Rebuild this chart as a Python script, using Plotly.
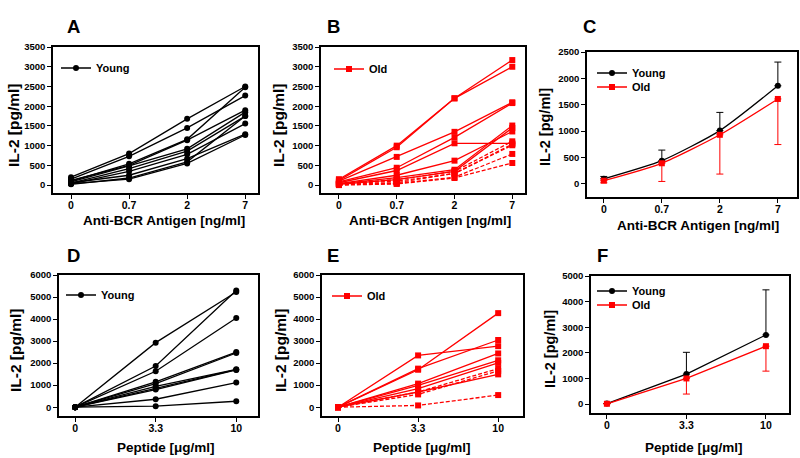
import plotly.graph_objects as go

W, H = 800, 458
FONT = "Liberation Sans"
RED = "#FF0000"
BLACK = "#000000"

# ---- data ----
bcr_doses = ["0", "0.7", "2", "7"]
pep_doses = ["0", "3.3", "10"]

# panel A: young donors, anti-BCR stimulation
young_bcr = [
    [200, 800, 1680, 2500],
    [150, 730, 1450, 2270],
    [100, 540, 1160, 2480],
    [120, 500, 1140, 1900],
    [80, 490, 920, 1850],
    [50, 420, 860, 1750],
    [30, 350, 780, 1560],
    [60, 250, 670, 1290],
    [20, 180, 590, 1750],
    [40, 150, 550, 1270],
]

# panel B: old donors, anti-BCR stimulation
old_bcr_solid = [
    [150, 1000, 2200, 3170],
    [120, 960, 2200, 3000],
    [100, 715, 1350, 2100],
    [80, 440, 1210, 2080],
    [60, 370, 1060, 1060],
    [40, 250, 620, 1360],
    [30, 190, 390, 1510],
    [20, 140, 350, 1450],
]
old_bcr_dashed = [
    [40, 140, 350, 1110],
    [30, 100, 290, 1040],
    [20, 60, 300, 1010],
    [10, 40, 200, 790],
    [0, 30, 180, 560],
]

# panel C: means
young_bcr_mean = [95, 440, 1010, 1860]
young_bcr_err = [45, 200, 345, 450]
old_bcr_mean = [60, 390, 930, 1610]
old_bcr_err = [40, 345, 745, 865]

# panel D: young donors, peptide stimulation
young_pep = [
    [0, 2930, 5230],
    [0, 1870, 5300],
    [0, 1630, 4050],
    [0, 1150, 2500],
    [0, 1075, 2460],
    [0, 950, 1720],
    [0, 850, 1700],
    [0, 800, 1690],
    [0, 360, 1120],
    [0, 45, 270],
]

# panel E: old donors, peptide stimulation
old_pep_solid = [
    [0, 1700, 4270],
    [0, 2350, 2770],
    [0, 1750, 3050],
    [0, 1070, 2440],
    [0, 990, 2130],
    [0, 840, 2010],
    [0, 690, 1490],
]
old_pep_dashed = [
    [0, 690, 1750],
    [0, 580, 1650],
    [0, 80, 550],
]

# panel F: means
young_pep_mean = [20, 1170, 2700]
young_pep_err = [0, 850, 1760]
old_pep_mean = [10, 1000, 2260]
old_pep_err = [0, 610, 975]

# ---- layout of the six panels (pixel boxes) ----
panels = [
    dict(box=(53, 258, 47, 193), xr=(-0.31, 3.22), yr=(-200, 3501), dt=500),
    dict(box=(321, 525, 47, 193), xr=(-0.31, 3.22), yr=(-200, 3501), dt=500),
    dict(box=(587, 797, 52, 197), xr=(-0.29, 3.33), yr=(-250, 2501), dt=500),
    dict(box=(59, 258, 275, 416), xr=(-0.2, 2.27), yr=(-400, 6001), dt=1000),
    dict(box=(322, 523, 275, 416), xr=(-0.2, 2.31), yr=(-400, 6001), dt=1000),
    dict(box=(591, 789, 276, 413), xr=(-0.2, 2.29), yr=(-350, 5001), dt=1000),
]


def px(x):
    return x / W


def py(y):
    return 1 - y / H


def axref(n):
    return ("x" if n == 1 else f"x{n}"), ("y" if n == 1 else f"y{n}")


def leg(n):
    return "legend" if n == 1 else f"legend{n}"


fig = go.Figure()


def add_lines(n, cats, rows, color, symbol, name, dash="solid", first=True):
    xa, ya = axref(n)
    for i, vals in enumerate(rows):
        fig.add_trace(go.Scatter(
            x=cats, y=vals, mode="lines+markers", name=name,
            line=dict(color=color, width=1.3, dash=dash),
            marker=dict(symbol=symbol, size=6, color=color),
            xaxis=xa, yaxis=ya, legend=leg(n),
            showlegend=(first and i == 0),
        ))


def add_means(n, lg, cats, mean, err, color, symbol, name, up, shape="linear"):
    xa, ya = axref(n)
    zeros = [0] * len(err)
    fig.add_trace(go.Scatter(
        x=cats, y=mean, mode="lines+markers", name=name,
        line=dict(color=color, width=1.3, shape=shape, smoothing=0.6),
        marker=dict(symbol=symbol, size=6, color=color),
        error_y=dict(type="data", symmetric=False,
                     array=err if up else zeros,
                     arrayminus=zeros if up else err,
                     color=color, thickness=1, width=3.5),
        xaxis=xa, yaxis=ya, legend=leg(lg),
    ))


add_lines(1, bcr_doses, young_bcr, BLACK, "circle", "Young")
add_lines(2, bcr_doses, old_bcr_solid, RED, "square", "Old")
add_lines(2, bcr_doses, old_bcr_dashed, RED, "square", "Old", dash="4px,2px", first=False)
add_means(3, 3, bcr_doses, young_bcr_mean, young_bcr_err, BLACK, "circle", "Young", True, "spline")
add_means(3, 7, bcr_doses, old_bcr_mean, old_bcr_err, RED, "square", "Old", False, "spline")
add_lines(4, pep_doses, young_pep, BLACK, "circle", "Young")
add_lines(5, pep_doses, old_pep_solid, RED, "square", "Old")
add_lines(5, pep_doses, old_pep_dashed, RED, "square", "Old", dash="4px,2px", first=False)
add_means(6, 6, pep_doses, young_pep_mean, young_pep_err, BLACK, "circle", "Young", True)
add_means(6, 8, pep_doses, old_pep_mean, old_pep_err, RED, "square", "Old", False)

layout = dict(
    width=W, height=H, margin=dict(l=0, r=0, t=0, b=0, autoexpand=False),
    paper_bgcolor="white", plot_bgcolor="white",
    font=dict(family=FONT, color=BLACK),
)

for n, p in enumerate(panels, start=1):
    x0, x1, y0, y1 = p["box"]
    lo, hi = p["yr"]
    sfx = "" if n == 1 else str(n)
    axis_common = dict(
        showline=True, linecolor=BLACK, linewidth=1.5, mirror=True,
        showgrid=False, zeroline=False, ticks="outside", ticklen=4,
        tickwidth=1, tickcolor=BLACK, automargin=False,
    )
    layout["xaxis" + sfx] = dict(
        axis_common, domain=[px(x0), px(x1)], anchor="y" + sfx,
        type="category", range=list(p["xr"]), ticklabelstandoff=-2,
        tickfont=dict(family=FONT, size=10.5, color=BLACK, weight="bold"),
    )
    layout["yaxis" + sfx] = dict(
        axis_common, domain=[py(y1), py(y0)], anchor="x" + sfx,
        range=[lo, hi], tickmode="array",
        tickvals=list(range(0, hi, p["dt"])),
        tickfont=dict(family=FONT, size=9.5, color=BLACK, weight="bold"),
    )

# legends inside each panel: legend id -> (line start x, centre y)
legend_pos = {1: (62, 68), 2: (335, 69), 3: (598, 73), 7: (598, 87),
              4: (67, 295), 5: (333, 296), 6: (598, 291), 8: (598, 305)}
for n, (lx, ly) in legend_pos.items():
    layout[leg(n)] = dict(
        x=px(lx - 6), y=py(ly), xanchor="left", yanchor="middle",
        bgcolor="rgba(0,0,0,0)", borderwidth=0, itemwidth=30,
        tracegroupgap=0,
        font=dict(family=FONT, size=11, color=BLACK, weight="bold"),
    )

fig.update_layout(**layout)


def note(text, x, y, size, angle=0):
    fig.add_annotation(text=f"<b>{text}</b>", x=px(x), y=py(y), xref="paper", yref="paper",
                       xanchor="center", yanchor="middle", showarrow=False,
                       textangle=angle, font=dict(family=FONT, size=size, color=BLACK))


# panel letters
for t, x, y in [("A", 73, 27), ("B", 333, 27), ("C", 589, 27),
                ("D", 73, 255), ("E", 333, 255), ("F", 602, 255)]:
    note(t, x, y, 18.5)

# x axis titles
for t, x, y in [("Anti-BCR Antigen [ng/ml]", 164, 220), ("Anti-BCR Antigen [ng/ml]", 430, 220),
                ("Anti-BCR Antigen [ng/ml]", 698, 225), ("Peptide [μg/ml]", 166, 447),
                ("Peptide [μg/ml]", 422, 447), ("Peptide [μg/ml]", 694, 447)]:
    note(t, x, y, 13.5)

# y axis titles
for x, y, s in [(13, 125, 15.5), (278, 125, 15.5), (545, 127, 14.5),
                (15, 350, 15.5), (280, 350, 15.5), (550, 349, 14.5)]:
    note("IL-2 [pg/ml]", x, y, s, angle=-90)

fig.write_html("out.html", config={"displayModeBar": False},
               post_script="document.body.style.margin='0';")
